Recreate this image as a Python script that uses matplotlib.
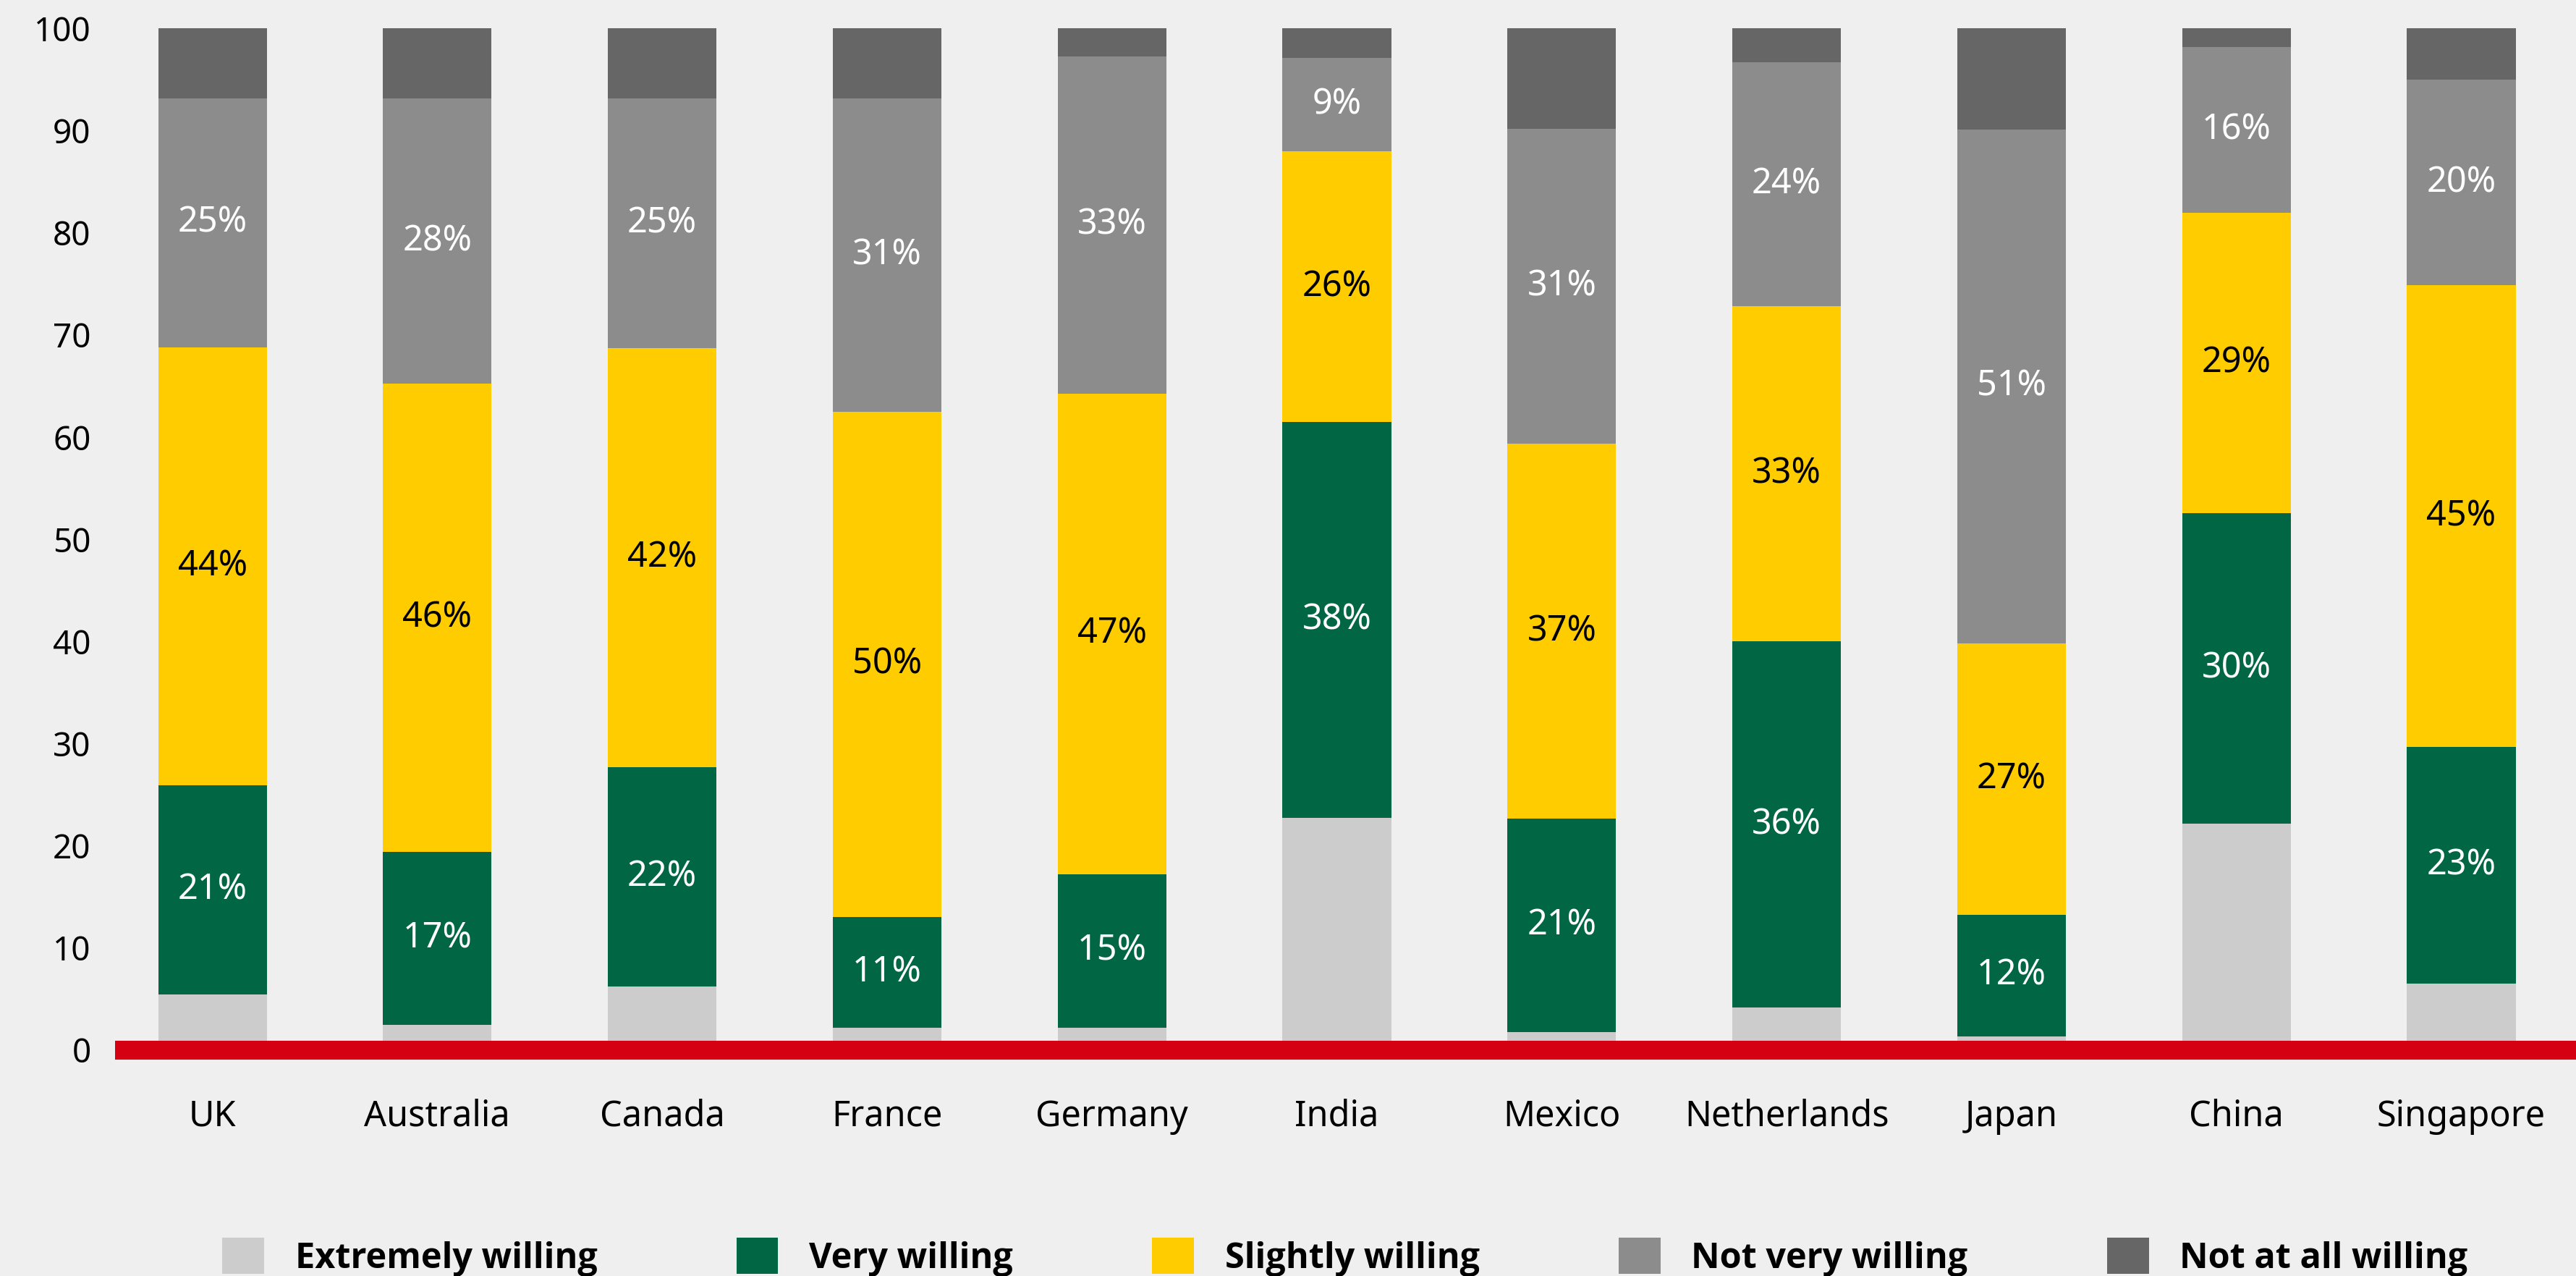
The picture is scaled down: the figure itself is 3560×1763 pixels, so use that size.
import matplotlib
matplotlib.use("Agg")
import matplotlib.pyplot as plt
import numpy as np

plt.rcParams["font.family"] = ["Noto Sans", "DejaVu Sans"]

countries = ["UK", "Australia", "Canada", "France", "Germany", "India",
             "Mexico", "Netherlands", "Japan", "China", "Singapore"]

# share of respondents per answer, in percent
extremely = [5.6, 2.5, 6.4, 2.2, 2.2, 22.3, 1.8, 4.2, 1.4, 21.9, 6.5]
very = [21, 17, 22, 11, 15, 38, 21, 36, 12, 30, 23]
slightly = [44, 46, 42, 50, 47, 26, 37, 33, 27, 29, 45]
not_very = [25, 28, 25, 31, 33, 9, 31, 24, 51, 16, 20]
not_at_all = [7.0, 6.9, 7.0, 6.9, 2.7, 2.8, 9.9, 3.3, 10.0, 1.8, 5.0]

series_names = ["Extremely willing", "Very willing", "Slightly willing",
                "Not very willing", "Not at all willing"]
colors = ["#cccccc", "#006644", "#ffcc00", "#8c8c8c", "#666666"]
text_colors = [None, "white", "black", "white", None]   # None = no label

raw = np.array([extremely, very, slightly, not_very, not_at_all], dtype=float)
shares = raw / raw.sum(axis=0) * 100   # 100% stacked

W, H, DPI = 3560, 1763, 200
fig = plt.figure(figsize=(W / DPI, H / DPI), dpi=DPI)
fig.patch.set_facecolor("#efefef")

left_px, top_px, zero_px = 159, 39.4, 1451
ax = fig.add_axes([left_px / W, 1 - zero_px / H, 1 - left_px / W, (zero_px - top_px) / H])
ax.set_facecolor("none")

x = np.arange(len(countries))
bottom = np.zeros(len(countries))
handles = []
for i, name in enumerate(series_names):
    bars = ax.bar(x, shares[i], bottom=bottom, width=0.483, color=colors[i],
                  linewidth=0, label=name, zorder=2)
    handles.append(bars)
    if text_colors[i]:
        for xi, b, h, v in zip(x, bottom, shares[i], raw[i]):
            ax.text(xi, b + h / 2, f"{v:g}%", ha="center", va="center",
                    fontsize=17.5, color=text_colors[i], zorder=4)
    bottom += shares[i]

ax.axhline(0, color="#d50012", lw=9.4, zorder=3, clip_on=False,
           solid_capstyle="butt")

ax.set_ylim(0, 100)
ax.set_xlim(-0.433, 10.51)
ax.set_yticks(range(0, 101, 10))
ax.set_xticks(x, countries)
ax.tick_params(axis="y", length=0, pad=12, labelsize=16.5, colors="black")
ax.tick_params(axis="x", length=0, pad=24, labelsize=17.5, colors="black")
for s in ax.spines.values():
    s.set_visible(False)

fig.legend(handles=handles, loc="center left",
           bbox_to_anchor=(307 / W, 1 - 1737 / H), ncol=5, frameon=False,
           handlelength=1.19, handleheight=1.19, handletextpad=0.88,
           columnspacing=3.95, borderpad=0, borderaxespad=0,
           prop={"family": ["Open Sans", "Roboto", "DejaVu Sans"],
                 "size": 17.5, "weight": "bold"})

fig.savefig("out.png", dpi=DPI, facecolor=fig.get_facecolor())
